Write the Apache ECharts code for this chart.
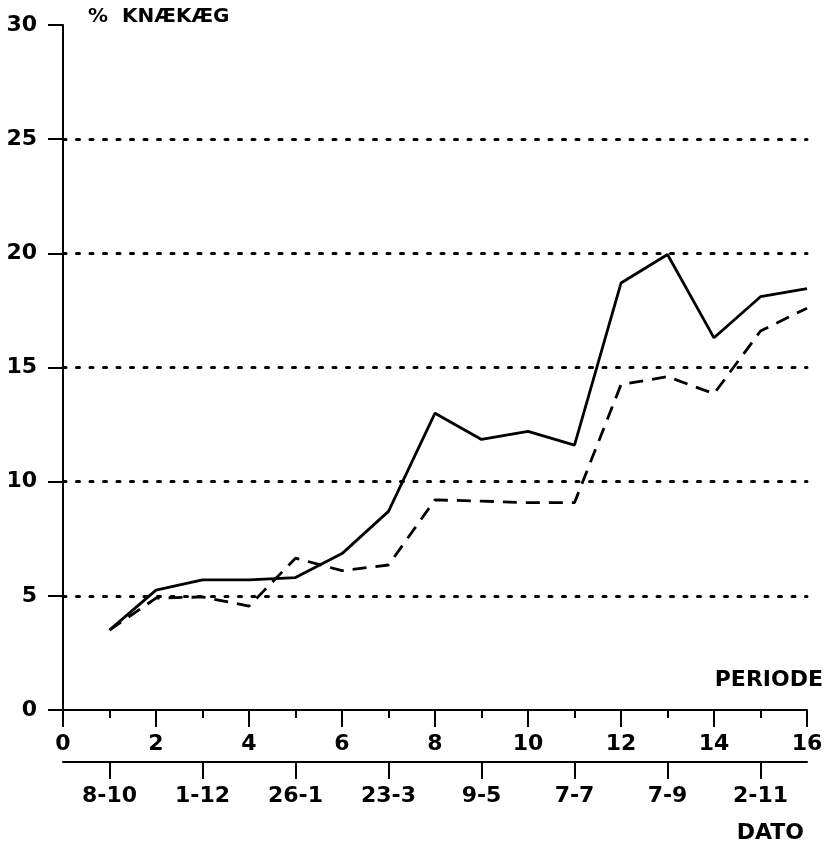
<!DOCTYPE html>
<html>
<head>
<meta charset="utf-8">
<script src="https://cdn.jsdelivr.net/npm/echarts@6/dist/echarts.min.js"></script>
<style>
  html, body { margin: 0; padding: 0; background: #fff; }
  #main { width: 828px; height: 847px; }
</style>
</head>
<body>
<div id="main"></div>
<script>
// periode 1..16
const periods = [1, 2, 3, 4, 5, 6, 7, 8, 9, 10, 11, 12, 13, 14, 15, 16];
// % knækæg, fuldt optrukket linje
const solidValues = [3.5, 5.25, 5.7, 5.7, 5.8, 6.85, 8.7, 13.0, 11.85, 12.2, 11.6, 18.7, 19.95, 16.3, 18.1, 18.45];
// stiplet linje
const dashedValues = [3.5, 4.9, 4.95, 4.55, 6.65, 6.1, 6.35, 9.2, 9.15, 9.08, 9.08, 14.25, 14.6, 13.85, 16.6, 17.6];
// dato-aksen
const datePeriods = [1, 3, 5, 7, 9, 11, 13, 15];
const dateLabels = ["8-10", "1-12", "26-1", "23-3", "9-5", "7-7", "7-9", "2-11"];

const font = "DejaVu Sans";
const ink = "#000";

const zip = (xs, ys) => xs.map((x, i) => [x, ys[i]]);

const myChart = echarts.init(document.getElementById("main"));

const labelStyle = { color: ink, fontFamily: font, fontWeight: "bold", fontSize: 22 };

const option = {
  backgroundColor: "#fff",
  animation: false,
  grid: { left: 63, right: 21, top: 25, bottom: 137 },
  xAxis: [
    {
      type: "value",
      min: 0,
      max: 16,
      interval: 2,
      axisLine: { show: true, onZero: false, lineStyle: { color: ink, width: 2 } },
      axisTick: { show: true, inside: false, length: 17, lineStyle: { color: ink, width: 2 } },
      minorTick: { show: true, splitNumber: 2, length: 8, lineStyle: { color: ink, width: 2 } },
      axisLabel: Object.assign({ margin: 23 }, labelStyle),
      splitLine: { show: false },
    },
    {
      type: "value",
      position: "bottom",
      offset: 52,
      min: 0,
      max: 16,
      axisLine: { show: true, onZero: false, lineStyle: { color: ink, width: 2 } },
      axisTick: { show: true, inside: false, length: 17, customValues: datePeriods, lineStyle: { color: ink, width: 2 } },
      axisLabel: Object.assign({
        margin: 23,
        customValues: datePeriods,
        formatter: function (v) {
          const i = datePeriods.indexOf(v);
          return i >= 0 ? dateLabels[i] : "";
        },
      }, labelStyle),
      splitLine: { show: false },
    },
  ],
  yAxis: {
    type: "value",
    min: 0,
    max: 30,
    interval: 5,
    axisLine: { show: true, lineStyle: { color: ink, width: 2 } },
    axisTick: { show: true, inside: false, length: 15, lineStyle: { color: ink, width: 2 } },
    axisLabel: Object.assign({ margin: 26 }, labelStyle),
    splitLine: {
      show: true,
      lineStyle: {
        color: ["rgba(0,0,0,0)", ink, ink, ink, ink, ink, "rgba(0,0,0,0)"],
        width: 3,
        type: [3, 10.5],
        cap: "round",
      },
    },
  },
  series: [
    {
      name: "solid",
      type: "line",
      xAxisIndex: 0,
      data: zip(periods, solidValues),
      showSymbol: false,
      symbol: "none",
      lineStyle: { color: ink, width: 2.8 },
    },
    {
      name: "dashed",
      type: "line",
      xAxisIndex: 0,
      data: zip(periods, dashedValues),
      showSymbol: false,
      symbol: "none",
      lineStyle: { color: ink, width: 2.8, type: [14, 9] },
    },
  ],
  graphic: [
    {
      type: "text",
      left: 88,
      top: 7,
      style: { text: "%  KNÆKÆG", fill: ink, font: "bold 20px " + font },
    },
    {
      type: "text",
      right: 5,
      top: 669,
      style: { text: "PERIODE", fill: ink, font: "bold 22px " + font },
    },
    {
      type: "text",
      right: 24,
      top: 822,
      style: { text: "DATO", fill: ink, font: "bold 22px " + font },
    },
  ],
};

myChart.setOption(option);
</script>
</body>
</html>
